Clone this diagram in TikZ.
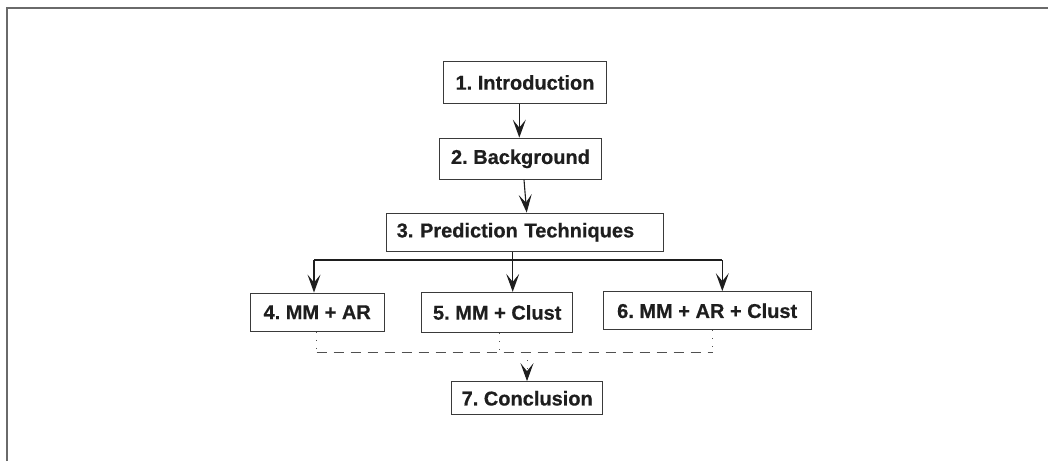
\documentclass[tikz,border=0pt]{standalone}
\usepackage{fontspec}
\setmainfont{Liberation Sans}[BoldFeatures={FakeBold=0.6}]
\usetikzlibrary{arrows.meta}
\definecolor{inkc}{HTML}{1E1E1E}
\definecolor{edgec}{HTML}{3A3A3A}
\definecolor{framec}{HTML}{6A6A6A}
\definecolor{dashc}{HTML}{505050}
\tikzset{
  stage/.style={draw=edgec, line width=1.3pt, text=inkc, inner sep=0pt,
    font=\fontsize{20}{24}\selectfont\bfseries\frenchspacing},
  flow/.style={draw=inkc, line width=1.1pt,
    -{Stealth[length=18pt,width=13pt,inset=8pt]}},
  link/.style={draw=inkc, line width=1.1pt},
  dotlink/.style={draw=dashc, line width=1pt, dash pattern=on 1pt off 7pt},
  dashlink/.style={draw=dashc, line width=1pt, dash pattern=on 10pt off 7pt},
  dotflow/.style={dotlink,
    -{Stealth[length=18pt,width=13pt,inset=8pt,color=inkc]}}
}
\begin{document}
\begin{tikzpicture}[x=1pt,y=-1pt]
\useasboundingbox (0,0) rectangle (1048,461);
% outer frame (top and left edges)
\draw[framec, line width=2pt] (7,461) -- (7,8) -- (1048,8);

% chapter boxes
\node[stage, minimum width=163pt, minimum height=42pt] (intro) at (525,82.5) {1. Introduction};
\node[stage, minimum width=162pt, minimum height=41pt] (bg) at (520.5,158.8) {2. Background};
\node[stage, minimum width=277pt, minimum height=38pt, inner xsep=10.5pt,
      text width=256pt, align=left] (pred) at (524.7,232.2) {3. Prediction Techniques};
\node[stage, minimum width=134pt, minimum height=38pt] (mmar) at (317.2,312.2) {4. MM + AR};
\node[stage, minimum width=151pt, minimum height=40pt] (mmcl) at (497.2,312.5) {5. MM + Clust};
\node[stage, minimum width=208pt, minimum height=38pt] (mmarcl) at (707.2,310.8) {6. MM + AR + Clust};
\node[stage, minimum width=151pt, minimum height=33pt] (concl) at (527.2,398.3) {7. Conclusion};

% junction points of the branch and the merge
\coordinate (a1) at (519.3,0);
\coordinate (j4) at (314,260);
\coordinate (j5) at (512.7,260);
\coordinate (j6) at (722.3,260);
\coordinate (m4) at (316.7,352.3);
\coordinate (m5) at (499.3,352.3);
\coordinate (m6) at (712.7,352.3);
\coordinate (m7) at (527,352.3);

% sequential flow
\draw[flow] (intro.south -| a1) -- (bg.north -| a1);
\draw[flow] ([xshift=3.5pt]bg.south) -- ([xshift=2pt]pred.north);

% branch to the three techniques
\draw[link] (pred.south -| j5) -- (j5);
\draw[link] (j4) -- (j6);
\draw[flow] (j4) -- (mmar.north -| j4);
\draw[flow] (j5) -- (mmcl.north -| j5);
\draw[flow] (j6) -- (mmarcl.north -| j6);

% merge into the conclusion
\draw[dotlink] (mmar.south -| m4) -- (m4);
\draw[dotlink] (mmcl.south -| m5) -- (m5);
\draw[dotlink] (mmarcl.south -| m6) -- (m6);
\draw[dashlink] (m4) -- (m6);
\draw[dotflow] (m7) -- (concl.north -| m7);
\end{tikzpicture}
\end{document}
